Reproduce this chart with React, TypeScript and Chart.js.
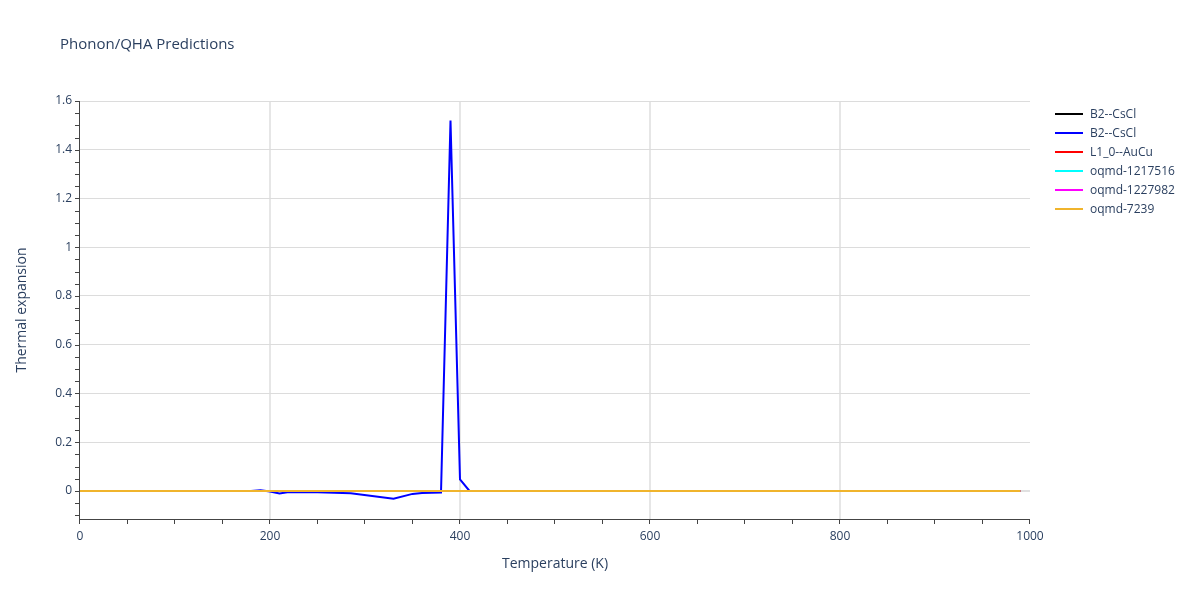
import React, { useEffect, useRef } from 'react';
import { Chart, registerables } from 'chart.js';

Chart.register(...registerables);

const TITLE = 'Phonon/QHA Predictions';
const X_TITLE = 'Temperature (K)';
const Y_TITLE = 'Thermal expansion';
const X_TICKS = [0, 200, 400, 600, 800, 1000];
const Y_TICKS = [0, 0.2, 0.4, 0.6, 0.8, 1, 1.2, 1.4, 1.6];

const SERIES_NAMES = ['B2--CsCl', 'B2--CsCl', 'L1_0--AuCu', 'oqmd-1217516', 'oqmd-1227982', 'oqmd-7239'];
const SERIES_COLORS = ['#000000', '#0000ff', '#ff0000', '#00ffff', '#ff00ff', '#f0b42c'];

const blackT = [0, 990];
const blackY = [0, 0];
const blueT = [0, 180, 190, 200, 210, 220, 250, 285, 330, 350, 360, 380, 390, 400, 410, 990];
const blueY = [0, 0, 0.003, -0.002, -0.01, -0.004, -0.005, -0.009, -0.032, -0.012, -0.008, -0.006, 1.52, 0.048, 0, 0];
const redT = [0, 990];
const redY = [0, 0];
const cyanT = [0, 990];
const cyanY = [0, 0];
const magentaT = [0, 990];
const magentaY = [0, 0];
const orangeT = [0, 990];
const orangeY = [0, 0];

const SERIES_T = [blackT, blueT, redT, cyanT, magentaT, orangeT];
const SERIES_Y = [blackY, blueY, redY, cyanY, magentaY, orangeY];

const TEXT_COLOR = '#2a3f5f';
const FONT = '"Open Sans", "DejaVu Sans", sans-serif';

const decor = {
  id: 'decor',
  afterDraw(chart: any) {
    const { ctx, chartArea } = chart;
    const { left, right, top, bottom } = chartArea;
    const xs = chart.scales.x;
    const ys = chart.scales.y;
    ctx.save();
    ctx.strokeStyle = '#444444';
    ctx.lineWidth = 1;
    ctx.beginPath();
    ctx.moveTo(left - 0.5, top);
    ctx.lineTo(left - 0.5, bottom + 0.5);
    ctx.lineTo(right, bottom + 0.5);
    ctx.stroke();
    ctx.beginPath();
    for (let k = -2; k <= 32; k++) {
      const py = Math.round(ys.getPixelForValue(k * 0.05)) + 0.5;
      ctx.moveTo(left - 5, py);
      ctx.lineTo(left, py);
    }
    for (let k = 0; k <= 20; k++) {
      const px = Math.round(xs.getPixelForValue(k * 50)) - 0.5;
      ctx.moveTo(px, bottom);
      ctx.lineTo(px, bottom + 5);
    }
    ctx.stroke();

    ctx.fillStyle = TEXT_COLOR;
    ctx.font = `15px ${FONT}`;
    ctx.textAlign = 'left';
    ctx.textBaseline = 'middle';
    ctx.fillText(TITLE, 60, 45);
    ctx.font = `14px ${FONT}`;
    ctx.textAlign = 'center';
    ctx.fillText(X_TITLE, (left + right) / 2, 564);
    ctx.save();
    ctx.translate(22, (top + bottom) / 2);
    ctx.rotate(-Math.PI / 2);
    ctx.fillText(Y_TITLE, 0, 0);
    ctx.restore();
    ctx.font = `12px ${FONT}`;
    ctx.textAlign = 'left';
    for (let i = 0; i < SERIES_NAMES.length; i++) {
      const ly = 114 + i * 19;
      ctx.strokeStyle = SERIES_COLORS[i];
      ctx.lineWidth = 2;
      ctx.beginPath();
      ctx.moveTo(1055, ly);
      ctx.lineTo(1083, ly);
      ctx.stroke();
      ctx.fillStyle = TEXT_COLOR;
      ctx.fillText(SERIES_NAMES[i], 1090, ly + 1);
    }
    ctx.restore();
  },
};

export default function App() {
  const ref = useRef<HTMLCanvasElement | null>(null);
  useEffect(() => {
    document.body.style.margin = '0';
    const canvas = ref.current;
    if (!canvas) return;
    const datasets = SERIES_NAMES.map((name, i) => ({
      label: name,
      data: SERIES_T[i].map((t, j) => ({ x: t, y: SERIES_Y[i][j] })),
      borderColor: SERIES_COLORS[i],
      backgroundColor: SERIES_COLORS[i],
      borderWidth: 2,
      pointRadius: 0,
      tension: 0,
      fill: false,
      order: SERIES_NAMES.length - 1 - i,
    }));
    const chart = new Chart(canvas, {
      type: 'line',
      data: { datasets },
      plugins: [decor],
      options: {
        responsive: false,
        animation: false,
        devicePixelRatio: 1,
        layout: { padding: { left: 0, right: 170, top: 101, bottom: 0 } },
        plugins: { legend: { display: false }, title: { display: false }, tooltip: { enabled: false } },
        scales: {
          x: {
            type: 'linear',
            min: 0,
            max: 1000,
            afterBuildTicks: (s: any) => {
              s.ticks = X_TICKS.map((v) => ({ value: v }));
            },
            afterFit: (s: any) => {
              s.height = 81;
            },
            ticks: {
              color: TEXT_COLOR,
              font: { family: FONT, size: 12 },
              padding: 10,
              maxRotation: 0,
              callback: (v: any) => String(v),
            },
            grid: {
              drawTicks: false,
              lineWidth: 2,
              color: (c: any) => (c.tick && (c.tick.value === 0 || c.tick.value === 1000) ? 'rgba(0,0,0,0)' : '#e6e6e6'),
            },
            border: { display: false },
          },
          y: {
            type: 'linear',
            min: -0.115,
            max: 1.6,
            afterBuildTicks: (s: any) => {
              s.ticks = Y_TICKS.map((v) => ({ value: v }));
            },
            afterFit: (s: any) => {
              s.width = 80;
            },
            ticks: {
              color: TEXT_COLOR,
              font: { family: FONT, size: 12 },
              padding: 8,
              callback: (v: any) => String(Math.round(v * 10) / 10),
            },
            grid: {
              drawTicks: false,
              lineWidth: (c: any) => (c.tick && c.tick.value === 0 ? 2 : 1),
              color: (c: any) => (c.tick && c.tick.value === 0 ? '#e0e0e0' : '#dcdcdc'),
            },
            border: { display: false },
          },
        },
      },
    });
    return () => chart.destroy();
  }, []);
  return <canvas ref={ref} width={1200} height={600} style={{ display: 'block' }} />;
}
